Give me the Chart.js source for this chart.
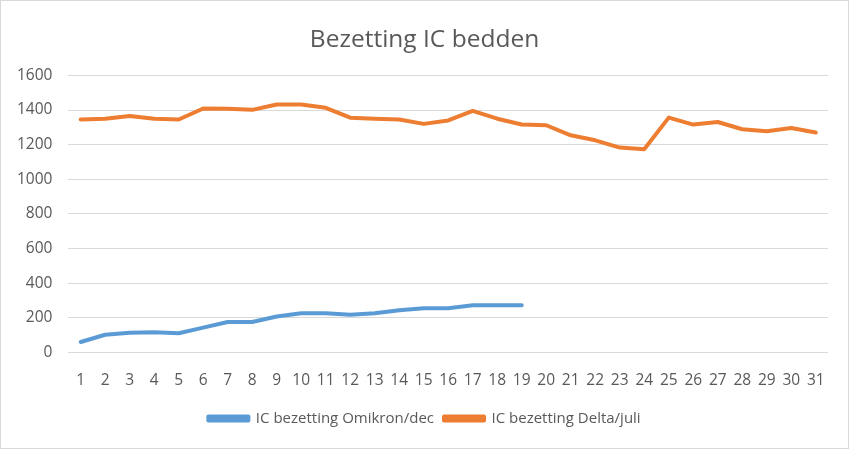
<!DOCTYPE html>
<html>
<head>
<meta charset="utf-8">
<script src="https://cdn.jsdelivr.net/npm/chart.js@4"></script>
<style>
  html, body { margin: 0; padding: 0; background: #fff; }
  #wrap { width: 849px; height: 449px; box-sizing: border-box; border: 1px solid #d9d9d9; }
</style>
</head>
<body>
<div id="wrap"><canvas id="chart1"></canvas></div>
<script>
// days of the month
const days = ["1", "2", "3", "4", "5", "6", "7", "8", "9", "10", "11", "12", "13", "14", "15", "16",
              "17", "18", "19", "20", "21", "22", "23", "24", "25", "26", "27", "28", "29", "30", "31"];

const omikronDec = [60, 102, 114, 116, 111, 143, 176, 176, 207, 226, 226, 218, 226, 243, 255, 255,
                    272, 272, 272];

const deltaJuli = [1345, 1350, 1366, 1350, 1345, 1409, 1407, 1401, 1432, 1432, 1413, 1356, 1350, 1345, 1320, 1340,
                   1395, 1350, 1316, 1312, 1254, 1225, 1183, 1173, 1356, 1316, 1331, 1289, 1277, 1296, 1270];

const yTicks = [0, 200, 400, 600, 800, 1000, 1200, 1400, 1600];

const textColor = "#595959";
const fontFamily = "'Open Sans', 'Liberation Sans', sans-serif";

// y axis is narrowed in afterFit, so widen its label clip box again after layout
const unclipYLabels = {
  id: 'unclipYLabels',
  afterLayout(chart) { chart.scales.y.left = 0; }
};

const ctx = document.getElementById("chart1").getContext("2d");

new Chart(ctx, {
  type: 'line',
  data: {
    labels: days,
    datasets: [
      {
        label: "IC bezetting Omikron/dec",
        data: omikronDec,
        borderColor: "#5B9BD5",
        backgroundColor: "#5B9BD5"
      },
      {
        label: "IC bezetting Delta/juli",
        data: deltaJuli,
        borderColor: "#ED7D31",
        backgroundColor: "#ED7D31"
      }
    ]
  },
  plugins: [unclipYLabels],
  options: {
    responsive: true,
    maintainAspectRatio: false,
    animation: false,
    // symmetric side padding keeps the title centred
    layout: { padding: { left: 20, right: 20, top: 0, bottom: 12 } },
    elements: {
      point: { radius: 0 },
      line: { borderWidth: 4, tension: 0, borderCapStyle: 'round', borderJoinStyle: 'round' }
    },
    scales: {
      x: {
        offset: true,
        grid: { display: false },
        border: { display: false },
        ticks: {
          color: textColor,
          font: { family: fontFamily, size: 15.5 },
          maxRotation: 0,
          autoSkip: false,
          padding: 11
        }
      },
      y: {
        min: 0,
        max: 1600,
        afterBuildTicks: (axis) => { axis.ticks = yTicks.map(v => ({ value: v })); },
        afterFit: (axis) => { axis.width -= 20; },
        grid: { color: "#d9d9d9", lineWidth: 1, drawTicks: false },
        border: { display: false },
        ticks: {
          color: textColor,
          font: { family: fontFamily, size: 15.5 },
          padding: 16,
          callback: (v) => String(v)
        }
      }
    },
    plugins: {
      title: {
        display: true,
        text: "Bezetting IC bedden",
        color: textColor,
        font: { family: fontFamily, size: 24.5, weight: 'normal' },
        padding: { top: 24, bottom: 21 }
      },
      legend: {
        position: 'bottom',
        labels: {
          color: textColor,
          font: { family: fontFamily, size: 15 },
          boxWidth: 40,
          boxHeight: 4,
          padding: 10
        }
      },
      tooltip: { enabled: false }
    }
  }
});
</script>
</body>
</html>
